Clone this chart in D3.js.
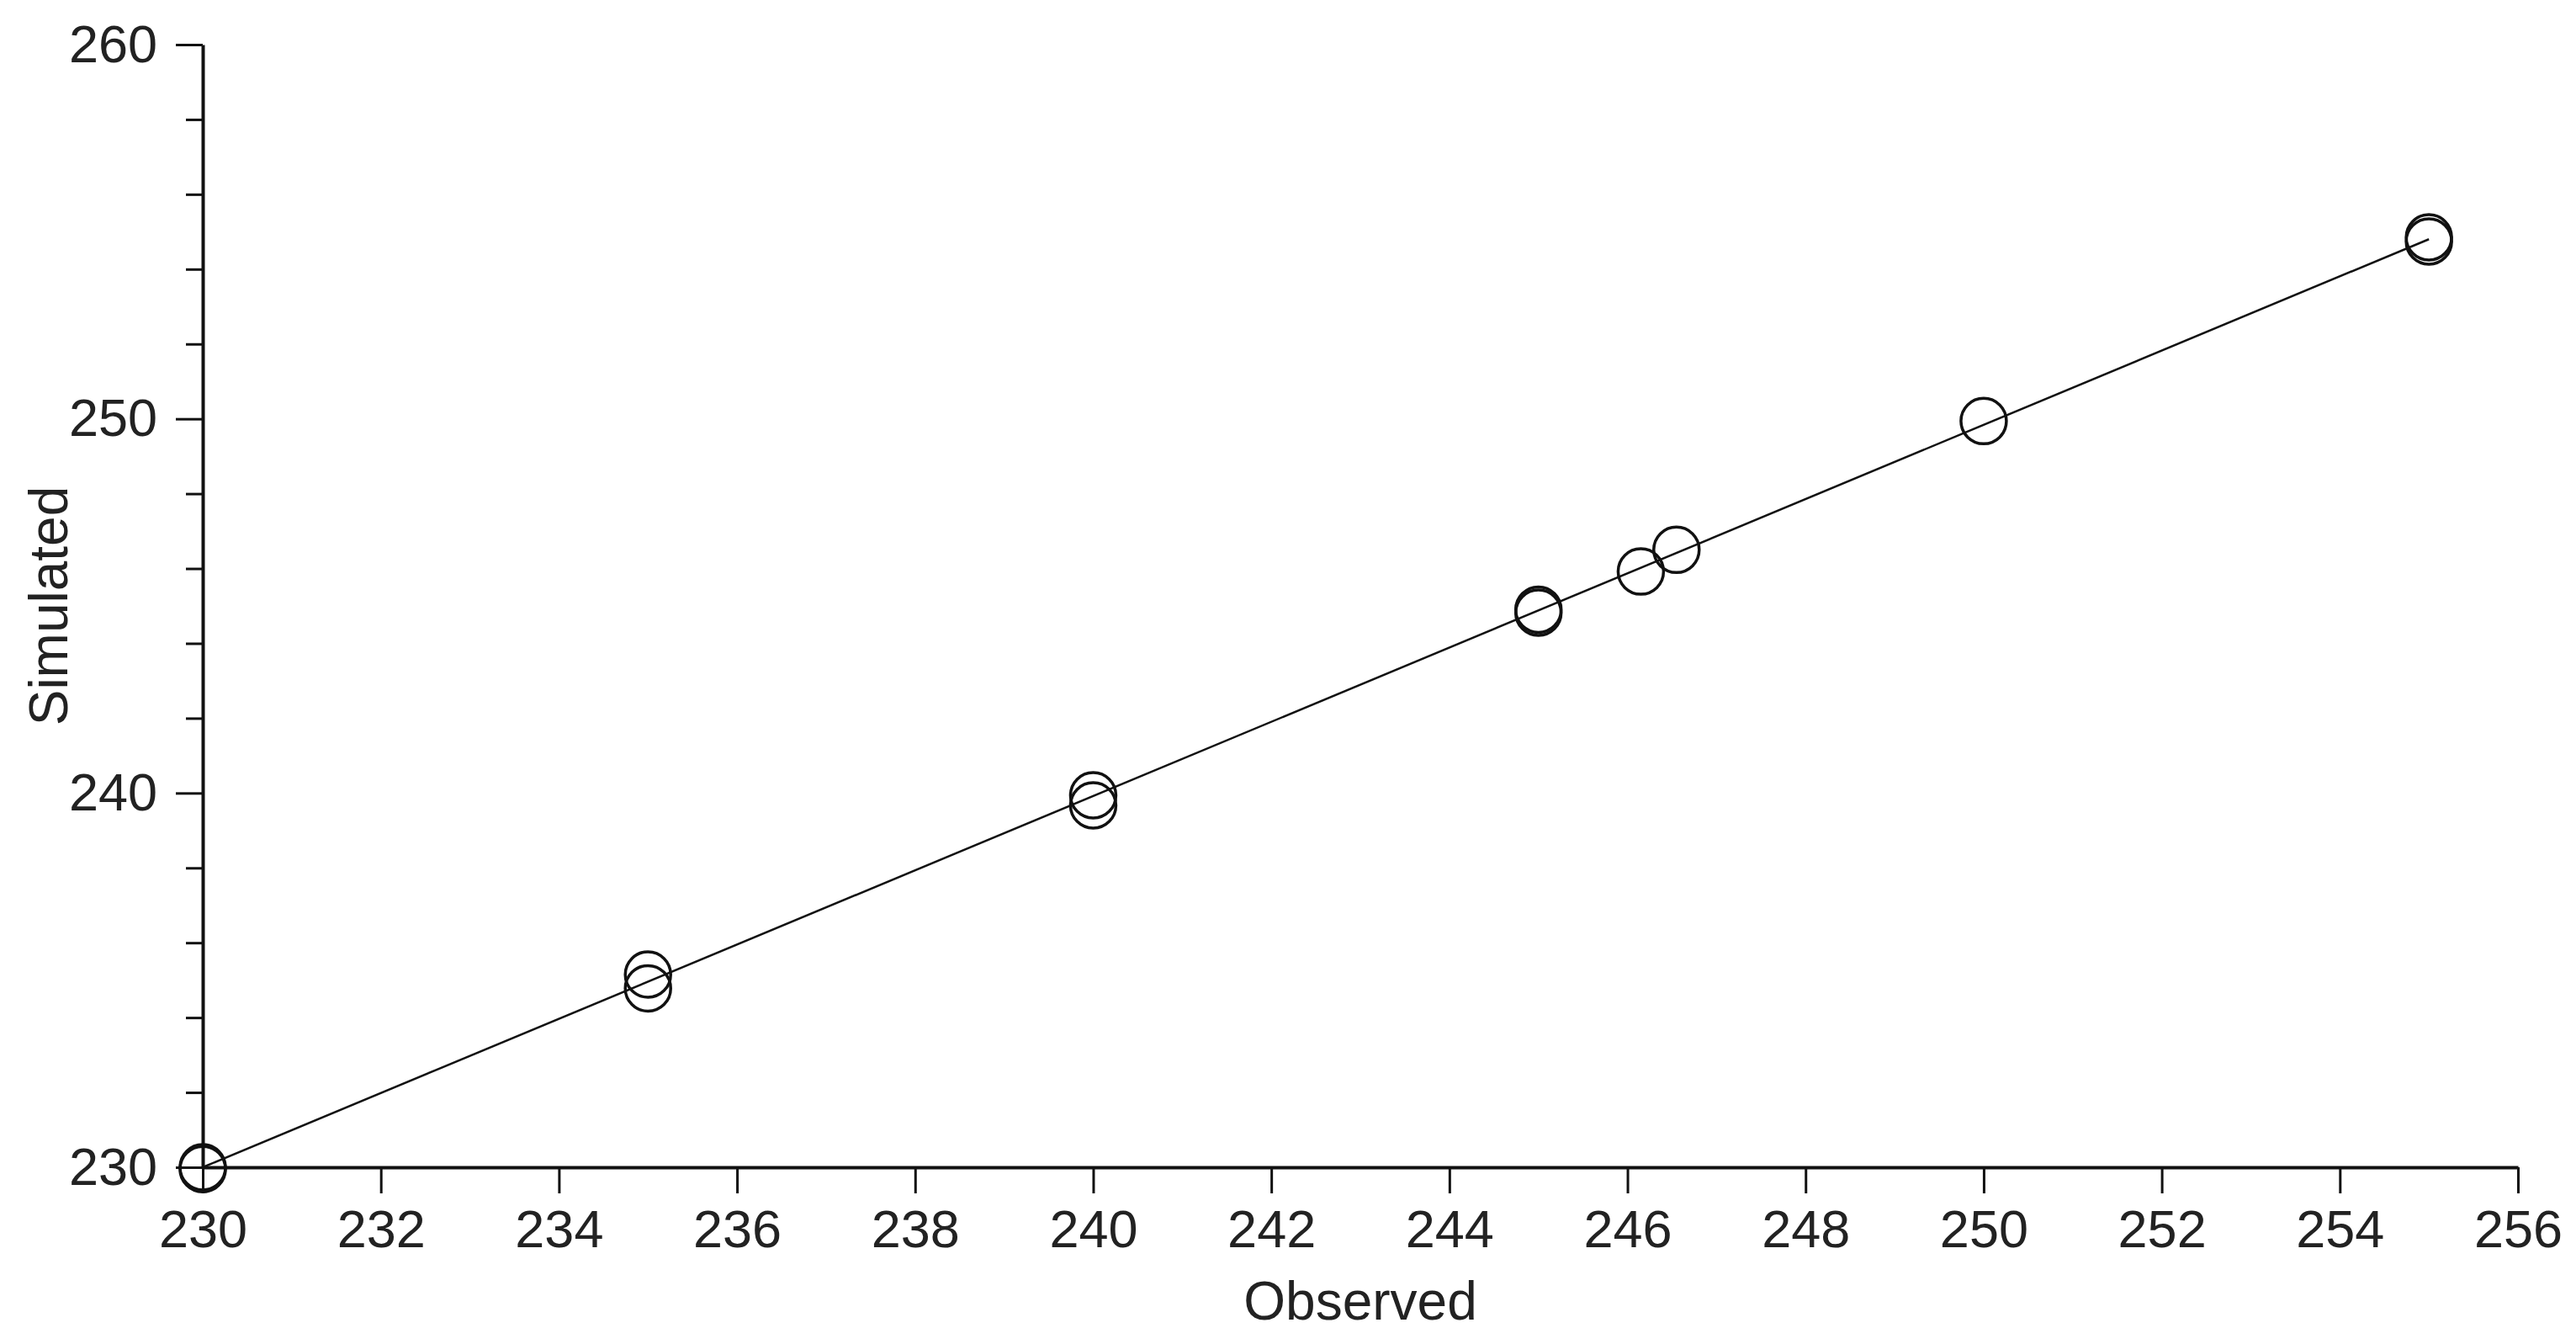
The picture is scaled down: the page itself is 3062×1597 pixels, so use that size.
<!DOCTYPE html>
<meta charset="utf-8">
<style>
body { margin: 0; background: #fff; }
text { font-family: "Liberation Sans", Arial, sans-serif; fill: #222; }
.axis .domain { stroke: #111; stroke-width: 4; }
.axis line { stroke: #111; stroke-width: 3; }
.axis text { font-size: 63px; fill: #222; }
</style>
<body>
<script src="https://d3js.org/d3.v7.min.js"></script>
<script>

// observed vs simulated values (several runs overlap at the same observed value)
var observed  = [230, 230, 235, 235, 240, 240, 245, 245, 246.15, 246.55, 250, 255, 255];
var simulated = [230, 229.95, 235.15, 234.78, 239.94, 239.67, 244.9, 244.82, 245.92, 246.5, 249.94, 254.85, 254.74];

// fitted line, end points
var lineObs = [230, 255];
var lineSim = [230, 254.8];

var xTicks = [230, 232, 234, 236, 238, 240, 242, 244, 246, 248, 250, 252, 254, 256];
var yMajor = [230, 240, 250, 260];
var yMinor = [232, 234, 236, 238, 242, 244, 246, 248, 252, 254, 256, 258];

var width = 3062, height = 1597;
var margin = {top: 53, right: 69, bottom: 210, left: 241};

var svg = d3.select("body").append("svg")
    .attr("width", width)
    .attr("height", height);

var x = d3.scaleLinear().domain([230, 256]).range([margin.left, width - margin.right]);
var y = d3.scaleLinear().domain([230, 260]).range([height - margin.bottom, margin.top]);

// x axis
svg.append("g")
    .attr("class", "axis")
    .attr("transform", "translate(0," + (height - margin.bottom) + ")")
    .call(d3.axisBottom(x).tickValues(xTicks).tickSize(31).tickSizeOuter(0).tickPadding(19).tickFormat(d3.format("d")));

// y axis minor ticks
svg.append("g")
    .attr("class", "axis")
    .attr("transform", "translate(" + margin.left + ",0)")
    .call(d3.axisLeft(y).tickValues(yMinor).tickSize(20).tickSizeOuter(0).tickFormat(""))
    .select(".domain").remove();

// y axis major
svg.append("g")
    .attr("class", "axis")
    .attr("transform", "translate(" + margin.left + ",0)")
    .call(d3.axisLeft(y).tickValues(yMajor).tickSize(32).tickSizeOuter(0).tickPadding(22).tickFormat(d3.format("d")));

// axis titles
svg.append("text")
    .attr("x", (margin.left + width - margin.right) / 2)
    .attr("y", 1568)
    .attr("text-anchor", "middle")
    .style("font-size", "64px")
    .text("Observed");

svg.append("text")
    .attr("transform", "translate(80," + ((margin.top + height - margin.bottom) / 2) + ") rotate(-90)")
    .attr("text-anchor", "middle")
    .style("font-size", "64px")
    .text("Simulated");

// fit line
var lineData = lineObs.map(function(d, i) { return [d, lineSim[i]]; });
svg.append("path")
    .datum(lineData)
    .attr("fill", "none")
    .attr("stroke", "#111")
    .attr("stroke-width", 2.5)
    .attr("d", d3.line().x(function(d) { return x(d[0]); }).y(function(d) { return y(d[1]); }));

// points
var pts = observed.map(function(d, i) { return {obs: d, sim: simulated[i]}; });
svg.selectAll(".pt")
    .data(pts)
  .enter().append("circle")
    .attr("class", "pt")
    .attr("cx", function(d) { return x(d.obs); })
    .attr("cy", function(d) { return y(d.sim); })
    .attr("r", 27)
    .attr("fill", "none")
    .attr("stroke", "#111")
    .attr("stroke-width", 3.5);

</script>
</body>
